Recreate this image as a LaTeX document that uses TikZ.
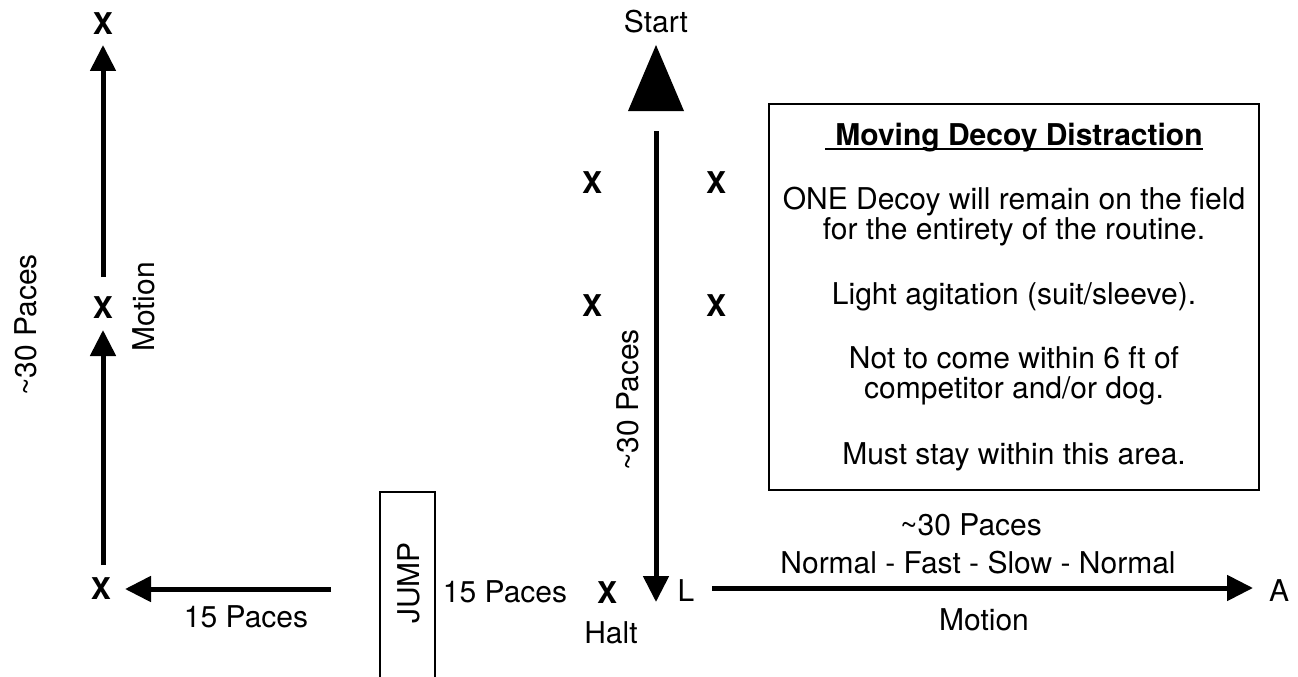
\documentclass[tikz,border=0pt]{standalone}
\usepackage{fontspec}
\setmainfont{TeX Gyre Heros}
\usetikzlibrary{arrows.meta}
\begin{document}
\begin{tikzpicture}[x=1pt,y=-1pt,
  txt/.style={inner sep=0pt, font=\fontsize{30}{32}\selectfont},
  lbl/.style={txt, anchor=base},
  xmark/.style={lbl, font=\fontsize{30}{32}\selectfont\bfseries},
  rot/.style={txt, rotate=90, anchor=center},
  bigarrow/.style={line width=5pt, -{Triangle[width=25pt,length=26pt]}},
  frame/.style={draw, line width=2pt},
]
\useasboundingbox (0,0) rectangle (1298,677);

% ---------- left column ----------
\node[xmark] (xtop) at (103,35) {X};
\node[xmark] (xmid) at (103,318) {X};
\node[xmark] (xbot) at (101,599) {X};
\coordinate (l1s) at (103,565);
\coordinate (l1e) at (103,330);
\coordinate (l2s) at (103,277);
\coordinate (l2e) at (103,45);
\draw[bigarrow] (l1s) -- (l1e);
\draw[bigarrow] (l2s) -- (l2e);
\coordinate (hls) at (331,589);
\coordinate (hle) at (125,589);
\draw[bigarrow] (hls) -- (hle);
\node[lbl] (p15a) at (246,627) {15 Paces};
\node[rot] (motl) at (144,307) {Motion};
\node[rot] (p30l) at (26,325) {\char`~30 Paces};

% ---------- jump ----------
\draw[line width=1.5pt] (380,690) -- (380,492) -- (435,492) -- (435,690);
\node[rot] (jump) at (409,583) {JUMP};
\node[lbl] (p15b) at (505,602) {15 Paces};

% ---------- middle ----------
\node[lbl] (start) at (656,33) {Start};
\fill (656,45) -- (684,111) -- (628,111) -- cycle;
\coordinate (vs) at (656,131);
\coordinate (ve) at (656,602);
\draw[bigarrow] (vs) -- (ve);
\node[xmark] (xa) at (592,193) {X};
\node[xmark] (xb) at (716,193) {X};
\node[xmark] (xc) at (592,316) {X};
\node[xmark] (xd) at (716,316) {X};
\node[rot] (p30m) at (628,400) {\char`~30 Paces};
\node[xmark] (xh) at (607,603) {X};
\node[lbl] (halt) at (611,643) {Halt};
\node[lbl] (L) at (686,601) {L};

% ---------- right ----------
\coordinate (rs) at (712,588);
\coordinate (re) at (1253,588);
\draw[bigarrow] (rs) -- (re);
\node[lbl] (A) at (1279,601) {A};
\node[lbl] (p30r) at (971,535) {\char`~30 Paces};
\node[lbl] (speed) at (978,573) {Normal - Fast - Slow - Normal};
\node[lbl] (motr) at (984,630) {Motion};

% ---------- info box ----------
\draw[frame] (769,104) rectangle (1259,490);
\node[lbl, font=\fontsize{30}{32}\selectfont\bfseries] (title) at (1019,145) {Moving Decoy Distraction};
\draw[line width=1.5pt] ([xshift=-10pt,yshift=-4pt]title.base west) -- ([yshift=-4pt]title.base east);
\node[lbl] (t1) at (1014,209) {ONE Decoy will remain on the field};
\node[lbl] (t2) at (1014,239) {for the entirety of the routine.};
\node[lbl] (t3) at (1014,304) {Light agitation (suit/sleeve).};
\node[lbl] (t4) at (1014,368) {Not to come within 6 ft of};
\node[lbl] (t5) at (1014,398) {competitor and/or dog.};
\node[lbl] (t6) at (1014,464) {Must stay within this area.};
\end{tikzpicture}
\end{document}
